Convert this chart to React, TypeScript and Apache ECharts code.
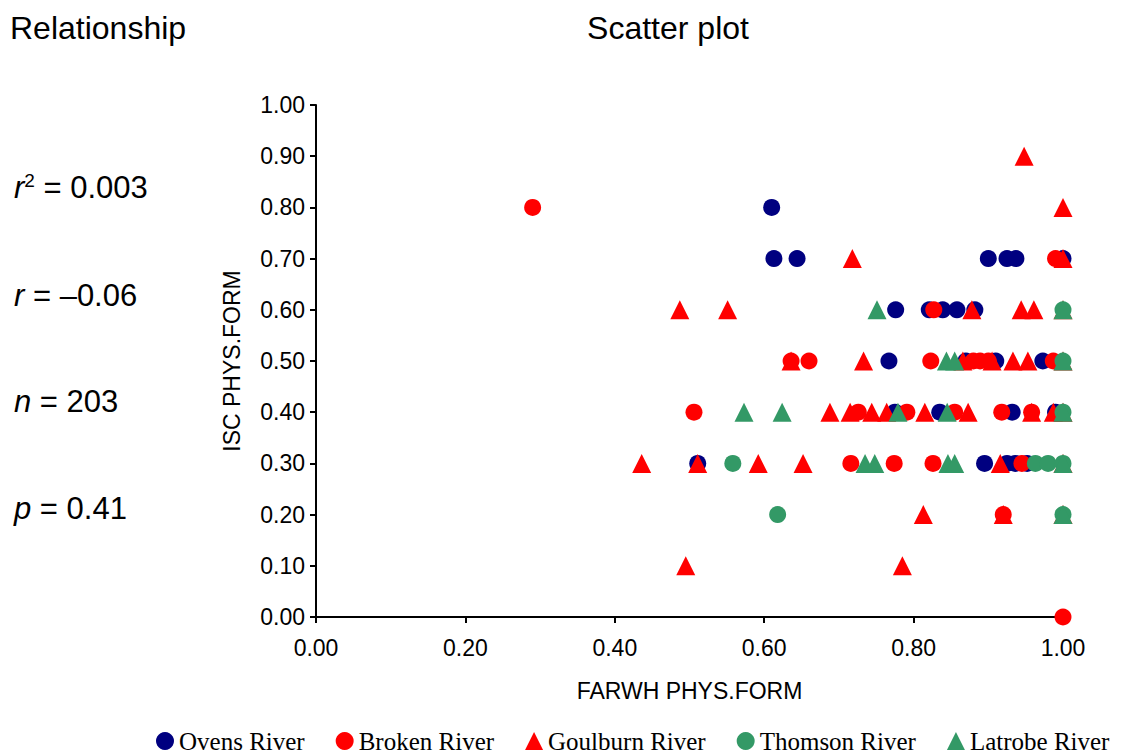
import React, { useEffect, useRef } from "react";
import * as echarts from "echarts";

// [FARWH PHYS.FORM, ISC PHYS.FORM] pairs for each river
const ovensRiver: [number, number][] = [
  [0.61, 0.8],
  [0.613, 0.7], [0.644, 0.7], [0.9, 0.7], [0.925, 0.7], [0.937, 0.7], [1.0, 0.7],
  [0.776, 0.6], [0.821, 0.6], [0.839, 0.6], [0.858, 0.6], [0.882, 0.6],
  [0.767, 0.5], [0.87, 0.5], [0.91, 0.5], [0.973, 0.5],
  [0.775, 0.4], [0.835, 0.4], [0.932, 0.4], [0.99, 0.4],
  [0.511, 0.3], [0.895, 0.3], [0.925, 0.3], [0.936, 0.3], [0.952, 0.3],
];

const brokenRiver: [number, number][] = [
  [0.29, 0.8],
  [0.99, 0.7],
  [0.827, 0.6],
  [0.636, 0.5], [0.66, 0.5], [0.823, 0.5], [0.88, 0.5], [0.889, 0.5], [0.9, 0.5], [0.987, 0.5],
  [0.506, 0.4], [0.726, 0.4], [0.791, 0.4], [0.855, 0.4], [0.918, 0.4], [0.958, 0.4],
  [0.716, 0.3], [0.774, 0.3], [0.826, 0.3], [0.945, 0.3],
  [0.92, 0.2],
  [1.0, 0.0],
];

const goulburnRiver: [number, number][] = [
  [0.948, 0.9],
  [1.0, 0.8],
  [0.718, 0.7], [1.0, 0.7],
  [0.487, 0.6], [0.551, 0.6], [0.878, 0.6], [0.944, 0.6], [0.961, 0.6], [1.0, 0.6],
  [0.636, 0.5], [0.733, 0.5], [0.866, 0.5], [0.905, 0.5], [0.933, 0.5], [0.953, 0.5], [1.0, 0.5],
  [0.688, 0.4], [0.715, 0.4], [0.744, 0.4], [0.764, 0.4], [0.815, 0.4], [0.873, 0.4], [0.958, 0.4], [0.987, 0.4], [1.0, 0.4],
  [0.436, 0.3], [0.511, 0.3], [0.592, 0.3], [0.652, 0.3], [0.916, 0.3], [1.0, 0.3],
  [0.813, 0.2], [0.92, 0.2], [1.0, 0.2],
  [0.495, 0.1], [0.785, 0.1],
];

const thomsonRiver: [number, number][] = [
  [1.0, 0.6],
  [1.0, 0.5],
  [1.0, 0.4],
  [0.558, 0.3], [0.963, 0.3], [0.98, 0.3], [1.0, 0.3],
  [0.618, 0.2], [1.0, 0.2],
];

const latrobeRiver: [number, number][] = [
  [0.751, 0.6], [1.0, 0.6],
  [0.844, 0.5], [0.855, 0.5], [1.0, 0.5],
  [0.573, 0.4], [0.624, 0.4], [0.779, 0.4], [0.845, 0.4], [1.0, 0.4],
  [0.735, 0.3], [0.748, 0.3], [0.846, 0.3], [0.855, 0.3], [1.0, 0.3],
  [1.0, 0.2],
];

const seriesNames = ["Ovens River", "Broken River", "Goulburn River", "Thomson River", "Latrobe River"];
const seriesData = [ovensRiver, brokenRiver, goulburnRiver, thomsonRiver, latrobeRiver];
const seriesColors = ["#000080", "#ff0000", "#ff0000", "#339966", "#339966"];
const seriesSymbols = ["circle", "circle", "triangle", "circle", "triangle"];

// Summary statistics shown on the left
const statLabels = [
  "{it|r}{sup|2}{n| = 0.003}",
  "{it|r}{n| = –0.06}",
  "{it|n}{n| = 203}",
  "{it|p}{n| = 0.41}",
];
const statY = [187, 295, 401, 508];

const SANS = "'Liberation Sans', Arial, Helvetica, sans-serif";
const SERIF = "'Liberation Serif', 'Times New Roman', serif";

export default function App() {
  const ref = useRef<HTMLDivElement>(null);

  useEffect(() => {
    if (!ref.current) return;
    const chart = echarts.init(ref.current, undefined, { renderer: "svg" });

    const rich = {
      it: { fontFamily: SANS, fontSize: 31, fontStyle: "italic", color: "#000" },
      sup: { fontFamily: SANS, fontSize: 19, color: "#000", verticalAlign: "top", padding: [0, 0, 14, 0] },
      n: { fontFamily: SANS, fontSize: 31, color: "#000" },
    };

    chart.setOption({
      animation: false,
      backgroundColor: "#fff",
      grid: { left: 316, right: 69, top: 105, bottom: 139, containLabel: false },
      xAxis: {
        type: "value",
        min: 0,
        max: 1,
        interval: 0.2,
        name: "FARWH PHYS.FORM",
        nameLocation: "middle",
        nameGap: 62,
        nameTextStyle: { fontFamily: SANS, fontSize: 23, color: "#000" },
        axisLine: { show: true, lineStyle: { color: "#000", width: 2 } },
        axisTick: { show: true, inside: false, length: 6, lineStyle: { color: "#000", width: 2 } },
        axisLabel: {
          fontFamily: SANS,
          fontSize: 23,
          color: "#000",
          margin: 19,
          formatter: (v: number) => v.toFixed(2),
        },
        splitLine: { show: false },
      },
      yAxis: {
        type: "value",
        min: 0,
        max: 1,
        interval: 0.1,
        name: "ISC PHYS.FORM",
        nameLocation: "middle",
        nameGap: 73,
        nameRotate: 90,
        nameTextStyle: { fontFamily: SANS, fontSize: 23, color: "#000" },
        axisLine: { show: true, lineStyle: { color: "#000", width: 2 } },
        axisTick: { show: true, inside: false, length: 6, lineStyle: { color: "#000", width: 2 } },
        axisLabel: {
          fontFamily: SANS,
          fontSize: 23,
          color: "#000",
          margin: 11,
          formatter: (v: number) => v.toFixed(2),
        },
        splitLine: { show: false },
      },
      legend: {
        left: 156,
        top: 728,
        padding: 0,
        itemWidth: 18,
        itemHeight: 18,
        itemGap: 31,
        textStyle: { fontFamily: SERIF, fontSize: 25, lineHeight: 26, color: "#000" },
        data: seriesNames.map((name, i) => ({ name, icon: seriesSymbols[i] })),
      },
      series: seriesNames.map((name, i) => ({
        name,
        type: "scatter",
        data: seriesData[i],
        symbol: seriesSymbols[i],
        symbolSize: seriesSymbols[i] === "triangle" ? 19 : 17,
        itemStyle: { color: seriesColors[i], opacity: 1 },
        clip: false,
      })),
      graphic: [
        {
          type: "text",
          x: 10,
          y: 28,
          style: {
            text: "Relationship",
            font: `32px ${SANS}`,
            fill: "#000",
            verticalAlign: "middle",
          },
        },
        {
          type: "text",
          x: 668,
          y: 28,
          style: {
            text: "Scatter plot",
            font: `32px ${SANS}`,
            fill: "#000",
            align: "center",
            verticalAlign: "middle",
          },
        },
        ...statLabels.map((t, i) => ({
          type: "text",
          x: 14,
          y: statY[i],
          style: {
            text: t,
            rich,
            verticalAlign: "middle",
            fill: "#000",
          },
        })),
      ],
    });

    return () => chart.dispose();
  }, []);

  return (
    <div
      ref={ref}
      style={{ position: "fixed", left: 0, top: 0, width: 1132, height: 756, background: "#fff" }}
    />
  );
}
